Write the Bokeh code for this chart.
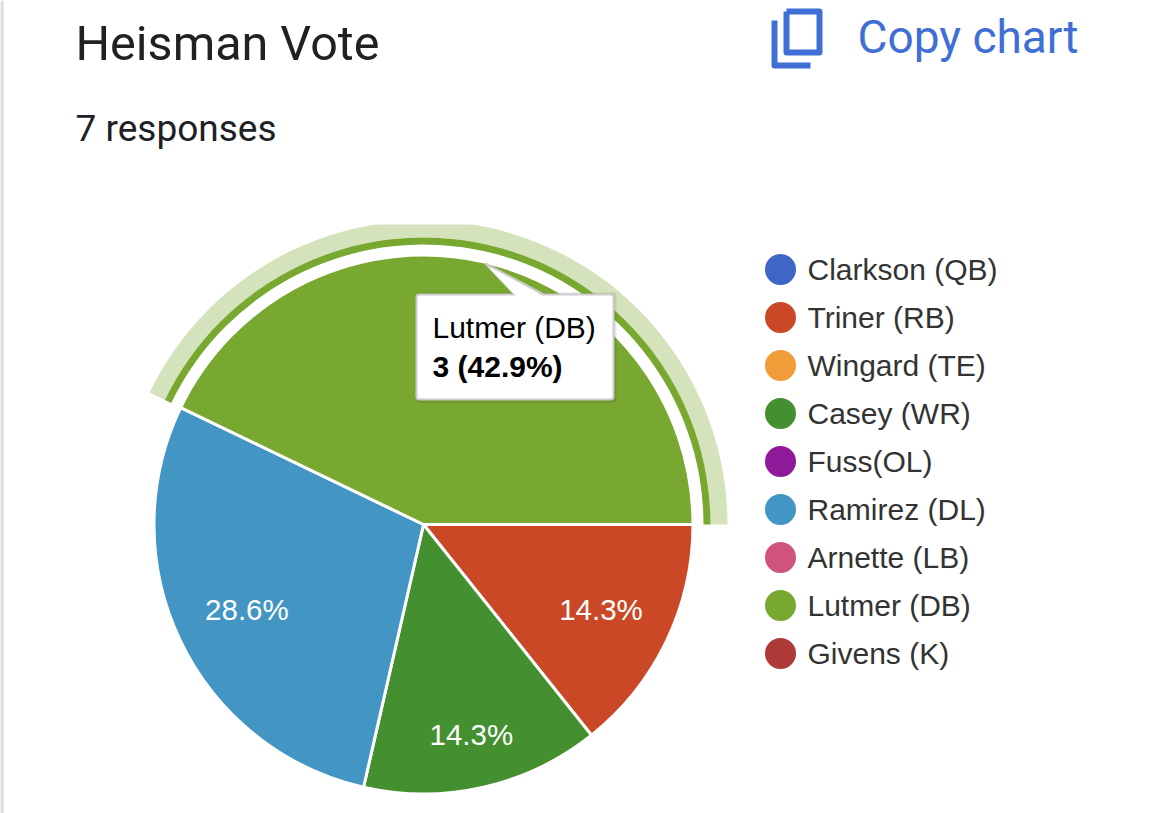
import numpy as np
from bokeh.core.properties import value
from bokeh.embed import file_html
from bokeh.models import Range1d
from bokeh.plotting import figure
from bokeh.resources import INLINE

# data
names = ["Clarkson (QB)", "Triner (RB)", "Wingard (TE)", "Casey (WR)", "Fuss(OL)",
         "Ramirez (DL)", "Arnette (LB)", "Lutmer (DB)", "Givens (K)"]
votes = [0, 1, 0, 1, 0, 2, 0, 3, 0]
colors = ["#3f65c7", "#cb4827", "#f09c38", "#449030", "#8e1a9a",
          "#4396c3", "#cf527f", "#79a830", "#ad3a36"]
title = "Heisman Vote"
subtitle = "7 responses"
copy_label = "Copy chart"
highlighted = "Lutmer (DB)"

W, H = 1169, 813
CX, CY = 423, 524
R = 269.5
# label distance from the centre, per slice (Google nudges them a bit)
label_r = {"Triner (RB)": 197, "Casey (WR)": 215, "Ramirez (DL)": 196}
ARIAL = value("Liberation Sans")
ROBOTO = value("Roboto")

def Y(v):
    # work in screen pixels measured from the top
    return H - np.asarray(v)


p = figure(width=W, height=H, output_backend="svg", toolbar_location=None,
           x_range=Range1d(0, W), y_range=Range1d(0, H),
           min_border=0, outline_line_color=None, margin=0)
p.axis.visible = False
p.grid.visible = False

# card edge
p.quad(left=0, right=3, bottom=0, top=H, fill_color="#dcdcdc", line_color=None)

# pie slices
vals = np.array(votes, dtype=float)
total = vals.sum()
ends = np.cumsum(vals) / total * 2 * np.pi
starts = ends - vals / total * 2 * np.pi

for i, name in enumerate(names):
    if votes[i] == 0:
        continue
    p.wedge(x=CX, y=Y(CY), radius=R, start_angle=-starts[i], end_angle=-ends[i],
            direction="clock", fill_color=colors[i], line_color="white", line_width=3)
    if name == highlighted:
        p.annular_wedge(x=CX, y=Y(CY), inner_radius=280, outer_radius=287,
                        start_angle=-starts[i], end_angle=-ends[i], direction="clock",
                        fill_color=colors[i], line_color=None)
        p.annular_wedge(x=CX, y=Y(CY), inner_radius=287, outer_radius=304,
                        start_angle=-starts[i], end_angle=-ends[i], direction="clock",
                        fill_color=colors[i], fill_alpha=0.32, line_color=None)
    else:
        mid = (starts[i] + ends[i]) / 2
        p.text(x=CX + label_r[name] * np.cos(mid), y=Y(CY + label_r[name] * np.sin(mid)),
               text=[f"{votes[i] / total * 100:.1f}%"], text_color="white",
               text_font=ARIAL, text_font_size="29.5px",
               text_align="center", text_baseline="middle")

# the chart area clips the top of the highlight ring
p.quad(left=100, right=700, top=Y(160), bottom=Y(224), fill_color="white", line_color=None)

# legend
legend_y = [269 + 48 * i for i in range(len(names))]
p.scatter(x=780, y=Y(legend_y), size=31, marker="circle", fill_color=colors, line_color=None)
p.text(x=807, y=Y(legend_y), text=names, text_color="#333333", text_font=ARIAL,
       text_font_size="30px", text_align="left", text_baseline="middle")

# tooltip
p.quad(left=416, right=616, top=Y(292), bottom=Y(402), fill_color="#000000", fill_alpha=0.1,
       line_color=None, border_radius=4)
p.patch(x=[485, 515, 545], y=Y([263, 295, 295]), fill_color="white", line_color="#cccccc", line_width=2)
p.quad(left=416, right=613, top=Y(294), bottom=Y(399), fill_color="white", line_color="#cccccc",
       line_width=2, border_radius=3)
p.patch(x=[487, 516, 543], y=Y([266, 296, 296]), fill_color="white", line_color=None)
sel = names.index(highlighted)
p.text(x=432, y=Y(327), text=[highlighted], text_color="#000000", text_font=ARIAL,
       text_font_size="30px", text_align="left", text_baseline="middle")
p.text(x=432, y=Y(366), text=[f"{votes[sel]} ({votes[sel] / total * 100:.1f}%)"], text_color="#000000",
       text_font=ARIAL, text_font_size="30px", text_font_style="bold",
       text_align="left", text_baseline="middle")

# header
p.text(x=75, y=Y(43), text=[title], text_color="#202124", text_font=ROBOTO, text_font_size="48.5px",
       text_align="left", text_baseline="middle")
p.text(x=75, y=Y(128), text=[subtitle], text_color="#202124", text_font=ROBOTO, text_font_size="37px",
       text_align="left", text_baseline="middle")
p.text(x=857, y=Y(36), text=[copy_label], text_color="#3f6fd4", text_font=ROBOTO, text_font_size="46px",
       text_align="left", text_baseline="middle")

# copy icon
p.line(x=[786, 819, 819, 786, 786], y=Y([11, 11, 52, 52, 11]), line_color="#3f6fd4", line_width=6, line_join="round")
p.line(x=[774, 774, 810], y=Y([20, 65, 65]), line_color="#3f6fd4", line_width=6, line_join="round")

open("out.html", "w").write(file_html(p, INLINE))
